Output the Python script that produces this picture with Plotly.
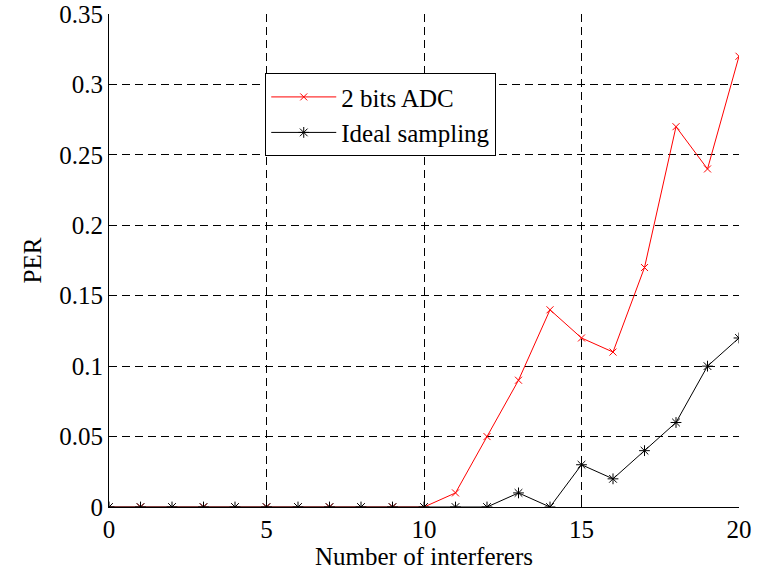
import plotly.graph_objects as go

x_vals = list(range(0, 21))
adc_2bit = [0, 0, 0, 0, 0, 0, 0, 0, 0, 0, 0, 0.01, 0.05, 0.09, 0.14, 0.12, 0.11, 0.17, 0.27, 0.24, 0.32]
ideal = [0, 0, 0, 0, 0, 0, 0, 0, 0, 0, 0, 0, 0, 0.01, 0, 0.03, 0.02, 0.04, 0.06, 0.10, 0.12]
y_ticks = [0, 0.05, 0.1, 0.15, 0.2, 0.25, 0.3, 0.35]
y_tick_text = ["0", "0.05", "0.1", "0.15", "0.2", "0.25", "0.3", "0.35"]
x_ticks = [0, 5, 10, 15, 20]

FONT = "Liberation Serif, Times New Roman, serif"
FS = 25

fig = go.Figure()
fig.add_trace(go.Scatter(
    x=x_vals, y=adc_2bit, name="2 bits ADC", mode="lines+markers",
    line=dict(color="red", width=1),
    marker=dict(symbol="x-thin-open", size=7, color="red", line=dict(color="red", width=1)),
))
fig.add_trace(go.Scatter(
    x=x_vals, y=ideal, name="Ideal sampling", mode="lines+markers",
    line=dict(color="black", width=1),
    marker=dict(symbol="asterisk-open", size=9, color="black", line=dict(color="black", width=1)),
))

fig.update_layout(
    width=759, height=570,
    margin=dict(l=109, r=20, t=14, b=63),
    paper_bgcolor="white", plot_bgcolor="white",
    font=dict(family=FONT, size=FS, color="black"),
    legend=dict(
        x=0.248, y=0.88, xanchor="left", yanchor="top",
        bgcolor="white", bordercolor="black", borderwidth=1,
        font=dict(family=FONT, size=FS, color="black"),
        tracegroupgap=0, itemwidth=65,
    ),
    showlegend=True,
)
fig.update_xaxes(
    range=[0, 20], tickvals=x_ticks, ticks="inside", ticklen=5, tickcolor="black",
    showline=True, linecolor="black", linewidth=1, mirror=False,
    showgrid=True, gridcolor="black", griddash="8px,5px", gridwidth=1,
    zeroline=False, automargin=False,
    title=dict(text="Number of interferers", font=dict(family=FONT, size=FS), standoff=0),
    tickfont=dict(family=FONT, size=FS),
)
fig.update_yaxes(
    range=[0, 0.35], tickvals=y_ticks, ticktext=y_tick_text, ticks="inside", ticklen=5, tickcolor="black",
    showline=True, linecolor="black", linewidth=1, mirror=False,
    showgrid=True, gridcolor="black", griddash="8px,5px", gridwidth=1,
    zeroline=False, automargin=False,
    title=dict(text="PER", font=dict(family=FONT, size=FS), standoff=10),
    tickfont=dict(family=FONT, size=FS),
)

fig.write_html("out.html")
